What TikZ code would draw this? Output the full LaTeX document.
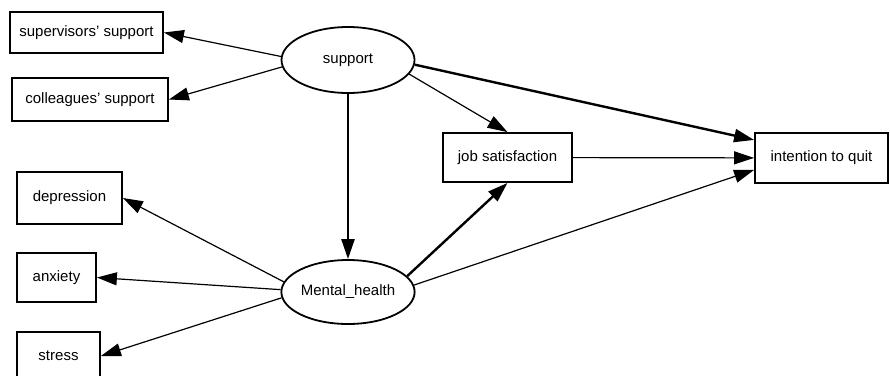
\documentclass[tikz,border=0pt]{standalone}
\usepackage{fontspec}
\setmainfont{Liberation Sans}
\usetikzlibrary{arrows.meta,shapes.geometric}
\tikzset{
  obsbox/.style  = {draw, line width=1.8pt, rectangle, inner sep=0pt, align=center},
  latent/.style  = {draw, line width=1.8pt, ellipse, inner sep=0pt},
  lnk/.style     = {-{Triangle[length=20pt,width=13pt]}, line width=1.2pt},
  lnkbold/.style = {lnk, line width=2.4pt},
}

\begin{document}
\begin{tikzpicture}[x=1pt,y=-1pt,font=\fontsize{15}{18}\selectfont]
\useasboundingbox (0,0) rectangle (890,375);
% latent variables
\node[latent,minimum width=133pt,minimum height=66pt] (support) at (348,60) {support};
\node[latent,minimum width=123pt,minimum height=64pt] (mental) at (348,292) {Mental\_health};
% indicators
\node[obsbox,minimum width=153pt,minimum height=41pt] (sup) at (86.5,32.5) {supervisors’ support};
\node[obsbox,minimum width=156pt,minimum height=43pt] (col) at (90,99.5) {colleagues’ support};
\node[obsbox,minimum width=105pt,minimum height=52pt] (dep) at (69.5,198) {depression};
\node[obsbox,minimum width=79pt,minimum height=49pt] (anx) at (56.5,277.5) {anxiety};
\node[obsbox,minimum width=83pt,minimum height=48pt] (str) at (58.5,356) {stress};
% outcomes
\node[obsbox,minimum width=129pt,minimum height=49pt] (job) at (507.5,157.5) {job satisfaction};
\node[obsbox,minimum width=133pt,minimum height=50pt] (quit) at (821.5,158) {intention to quit};
% measurement paths
\draw[lnk] (support.177) -- (sup.east);
\draw[lnk] (support.186) -- (col.east);
\draw[lnk] (mental.171) -- (dep.east);
\draw[lnk] (mental.178) -- (anx.east);
\draw[lnk] (mental.185) -- (str.east);
% structural paths
\draw[lnkbold] (support) -- (mental);
\draw[lnk] (support.-13) -- (job.north);
\draw[lnkbold] (support.-4) -- (quit.165);
\draw[lnk] (job) -- (quit);
\draw[lnkbold] (mental.15) -- (job.south);
\draw[lnk] (mental.6) -- (quit.190);
\end{tikzpicture}
\end{document}
